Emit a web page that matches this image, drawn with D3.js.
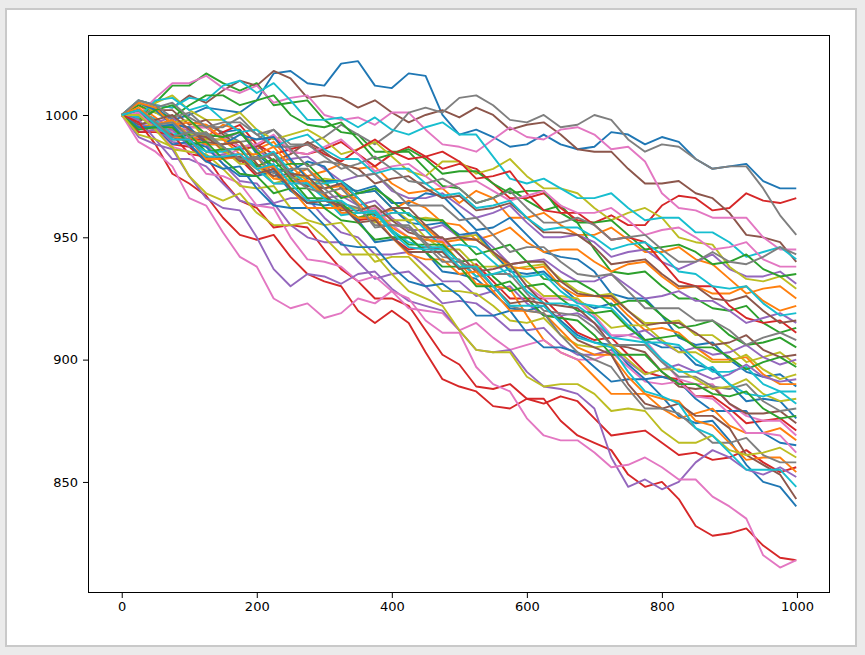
<!DOCTYPE html>
<html>
<head>
<meta charset="utf-8">
<script src="https://cdn.jsdelivr.net/npm/d3@7"></script>
<style>
  html, body { margin: 0; padding: 0; background: #ebebeb; }
  svg { display: block; }
</style>
</head>
<body>
<svg id="chart" width="865" height="655"></svg>
<script>
// sample positions along each walk (x values)
const steps = [0,25,50,75,100,125,150,175,200,225,250,275,300,325,350,375,400,425,450,475,500,
               525,550,575,600,625,650,675,700,725,750,775,800,825,850,875,900,925,950,975,999];

// values, grouped by colour (5 walks per colour)
const blueSeries = [
  [1000,1005,1003,998,1000,1003,1002,1001,1006,1017,1018,1013,1012,1021,1022,1012,1011,1017,1016,1000,992,994,991,987,988,992,988,986,987,993,992,988,991,989,982,978,979,980,973,970,970],
  [1000,995,996,997,990,990,993,994,984,978,977,981,979,970,969,971,964,964,968,967,960,953,954,958,951,944,942,941,936,927,925,925,918,909,906,907,900,895,893,894,889],
  [1000,1005,1002,996,995,988,988,992,990,991,982,974,973,973,968,969,962,956,955,956,951,952,944,936,935,936,930,924,921,923,916,908,905,905,898,896,890,883,884,883,876],
  [1000,1000,994,988,989,987,980,975,975,977,969,964,963,964,957,948,949,950,944,936,935,933,927,921,920,922,916,910,907,906,898,892,893,891,884,879,879,879,870,866,865],
  [1000,995,995,996,988,981,978,979,970,963,962,962,955,947,946,946,938,932,930,931,926,918,918,920,911,905,905,903,897,891,892,892,885,877,874,875,867,857,850,848,840]
];
const orangeSeries = [
  [1000,1004,999,994,994,991,996,994,986,989,981,975,977,980,978,979,972,968,969,970,964,969,966,958,958,960,955,951,951,954,949,944,944,946,941,939,933,927,929,930,925],
  [1000,993,994,995,990,992,985,981,983,974,975,978,972,967,966,960,961,965,962,956,955,949,951,954,948,944,945,945,940,936,939,940,934,929,930,927,927,930,924,920,922],
  [1000,1005,1003,996,997,996,990,984,984,987,979,973,970,971,964,957,960,960,954,948,949,949,944,938,937,938,930,926,926,925,918,912,913,911,905,900,900,901,894,890,890],
  [1000,995,996,998,991,988,988,989,980,974,973,973,967,960,960,961,954,950,949,948,940,931,930,929,918,908,903,900,893,886,886,886,880,876,878,880,873,870,870,872,867],
  [1000,1003,997,991,990,982,982,983,978,979,970,962,962,962,958,958,950,943,941,941,935,936,928,920,920,919,912,905,902,902,893,886,884,883,875,873,866,859,860,860,854]
];
const greenSeries = [
  [1000,999,1005,1012,1012,1017,1013,1010,1013,1004,1005,1006,998,993,992,985,985,985,978,971,970,964,966,970,965,961,963,956,945,936,935,936,930,925,925,921,920,922,915,911,913],
  [1000,1004,1001,999,1004,1008,1008,1004,1006,1008,1000,996,995,997,990,982,984,986,982,976,977,977,972,968,969,969,960,956,956,957,951,945,946,947,944,939,940,943,937,934,935],
  [1000,998,1002,1004,998,992,991,993,985,979,980,980,973,966,968,970,965,959,957,957,950,943,945,947,940,933,932,932,928,922,924,924,918,913,914,916,910,906,907,909,905],
  [1000,1002,996,991,992,985,986,986,979,982,974,966,966,964,958,960,953,947,947,947,940,941,934,928,930,931,925,920,919,920,913,908,909,910,905,905,901,896,899,901,897],
  [1000,994,995,995,988,989,982,976,975,968,970,970,962,957,956,949,950,950,944,938,938,930,930,932,925,918,917,916,910,902,902,902,895,890,890,886,885,887,880,876,877]
];
const redSeries = [
  [1000,1002,998,993,995,995,990,986,987,991,985,984,986,989,984,979,984,987,983,978,980,978,972,966,966,968,962,957,956,959,955,955,963,967,966,961,962,968,965,964,966],
  [1000,995,995,997,990,990,993,996,988,984,986,988,984,981,986,990,985,982,983,985,981,974,975,977,968,961,960,960,955,949,950,948,940,932,930,930,922,917,915,916,911],
  [1000,1001,994,988,987,981,983,982,975,978,970,964,965,963,957,958,950,945,946,945,937,939,932,925,925,925,918,911,908,909,902,895,893,892,885,885,880,874,875,876,871],
  [1000,993,993,992,984,983,973,965,962,954,955,954,945,937,932,925,925,922,912,902,898,889,888,890,884,882,885,883,876,869,870,871,866,861,862,859,860,863,858,854,856],
  [1000,997,988,976,972,967,958,951,949,951,942,935,932,930,920,915,920,915,903,892,889,887,881,880,884,884,875,869,866,863,853,848,850,843,832,828,829,831,824,819,818]
];
const purpleSeries = [
  [1000,996,997,999,993,990,990,993,986,981,982,983,978,973,975,976,969,966,966,968,963,958,960,963,956,950,950,951,948,942,944,945,940,937,940,943,937,934,934,936,931],
  [1000,1002,995,989,988,982,984,984,978,979,970,964,966,967,963,965,958,953,953,955,950,952,946,939,940,941,936,932,932,935,930,925,926,928,924,924,920,915,917,919,915],
  [1000,993,994,994,987,988,980,973,972,964,966,966,958,952,950,943,943,944,938,932,932,926,928,930,923,918,918,919,915,909,910,912,907,903,905,902,903,906,901,898,900],
  [1000,998,990,982,982,979,972,965,963,964,955,950,948,948,940,933,935,936,930,923,924,923,918,912,912,913,906,902,902,904,899,894,896,898,895,892,894,898,893,891,892],
  [1000,991,988,986,975,966,962,961,950,937,930,935,934,931,935,936,929,924,922,920,912,904,903,904,895,889,888,886,880,860,848,851,847,850,858,863,860,855,853,856,852]
];
const brownSeries = [
  [1000,1006,1004,1003,1008,1005,1010,1014,1012,1018,1015,1007,1008,1007,1003,1006,1001,997,1000,1002,999,1003,1000,994,996,997,992,986,985,985,978,972,972,973,968,966,960,951,950,948,940],
  [1000,997,1002,1002,996,998,992,987,988,981,984,989,985,980,978,972,974,975,970,966,967,961,962,964,958,952,952,951,946,939,940,941,935,930,930,925,924,926,920,915,916],
  [1000,1002,997,991,992,991,986,981,982,984,976,971,970,972,966,959,962,962,955,949,950,949,944,939,940,940,932,927,926,926,920,914,915,915,911,906,907,910,904,901,902],
  [1000,996,998,1000,994,989,988,989,980,975,976,975,968,961,961,963,957,952,950,950,943,936,937,939,930,923,922,921,915,906,905,903,895,889,888,889,882,878,878,879,874],
  [1000,1002,996,990,990,983,983,983,976,978,970,964,965,963,956,957,950,944,944,944,937,938,930,923,924,923,915,908,905,902,890,882,880,882,877,877,872,861,857,853,843]
];
const pinkSeries = [
  [1000,1000,1007,1013,1013,1016,1011,1009,1012,1005,1007,1008,1000,998,999,996,1001,1001,994,988,987,985,990,995,991,990,994,995,992,986,987,981,968,962,961,958,958,958,950,945,945],
  [1000,1002,998,993,995,995,991,987,988,992,985,984,987,990,984,977,979,980,975,970,972,973,969,965,967,969,963,960,960,962,957,951,953,954,950,945,946,948,941,938,938],
  [1000,995,995,997,990,985,983,986,978,972,972,973,967,960,960,962,955,950,949,949,943,936,937,939,930,925,925,924,918,910,910,908,900,892,890,890,882,877,875,875,869],
  [1000,1001,994,987,985,976,975,972,963,962,950,941,940,938,932,934,928,921,920,919,912,915,909,904,906,908,903,900,900,903,897,891,890,891,885,884,878,870,870,869,862],
  [1000,989,985,979,966,963,952,942,938,925,921,923,917,919,925,923,928,925,916,911,911,897,890,887,876,869,867,867,862,856,857,860,856,851,851,844,840,835,820,815,818]
];
const graySeries = [
  [1000,1002,998,993,995,996,993,989,990,994,988,988,991,996,992,988,993,1001,1003,1001,1007,1008,1004,998,997,1000,995,996,1000,998,990,985,988,987,982,978,979,979,970,959,951],
  [1000,999,1003,1005,999,995,995,999,992,987,987,988,983,978,980,983,978,973,972,974,970,964,966,969,962,956,956,958,955,949,950,951,945,940,940,944,940,939,942,946,943],
  [1000,1006,1004,999,1001,995,997,997,992,994,986,979,981,980,975,976,970,963,963,963,957,958,951,944,946,946,940,935,934,935,928,921,921,921,916,916,912,906,909,911,908],
  [1000,994,996,997,991,993,987,982,983,976,978,978,970,964,962,955,955,955,948,942,941,934,935,935,927,920,919,918,913,906,906,906,899,893,893,889,888,890,883,879,880],
  [1000,1002,997,991,993,992,987,982,982,984,975,970,968,970,963,954,955,954,947,940,940,937,930,922,920,919,910,903,900,897,888,880,880,878,872,866,866,868,861,858,858]
];
const oliveSeries = [
  [1000,1000,1005,1008,1002,998,998,1001,994,990,992,994,990,984,986,989,983,977,975,981,981,976,978,982,975,970,970,968,962,957,960,962,958,950,948,947,938,933,932,934,929],
  [1000,1005,1001,997,998,990,990,989,982,984,975,971,974,973,968,969,962,957,958,957,950,951,943,937,938,939,933,928,926,927,920,915,915,916,910,910,905,899,901,903,898],
  [1000,994,996,997,992,993,986,980,980,972,974,975,967,962,962,956,957,957,950,945,945,938,938,939,932,926,926,925,919,913,914,914,908,903,903,899,899,902,896,892,894],
  [1000,1000,994,986,985,984,978,971,970,971,962,957,955,956,948,940,942,942,935,928,928,927,922,916,915,917,910,906,905,906,900,894,896,896,892,888,889,892,886,883,884],
  [1000,992,990,987,975,968,965,968,960,955,955,956,950,943,943,943,935,928,925,922,912,904,903,903,893,889,890,890,886,879,880,879,871,866,866,869,863,861,862,864,860]
];
const cyanSeries = [
  [1000,1006,1004,1003,1007,1006,1012,1014,1009,1013,1006,998,998,999,995,999,994,992,995,997,992,992,983,974,972,974,970,966,966,968,962,957,958,958,952,952,948,942,944,946,941],
  [1000,999,1006,1007,1002,1004,998,993,994,987,990,992,986,982,982,976,978,978,972,967,968,962,963,965,958,953,954,954,950,945,947,948,943,936,935,930,929,930,923,918,919],
  [1000,1002,998,992,993,992,987,982,982,985,977,972,972,973,966,958,960,960,953,946,947,946,940,934,934,935,928,923,922,921,914,907,907,906,900,895,895,897,890,887,887],
  [1000,995,995,996,989,985,985,987,978,972,972,972,966,959,960,961,953,948,946,946,940,934,935,937,928,923,923,922,917,909,908,907,900,895,895,897,890,886,885,887,882],
  [1000,1002,996,990,990,983,983,984,978,980,972,965,965,965,960,960,952,946,945,945,938,938,930,922,922,922,915,909,907,905,895,887,885,882,872,869,862,855,855,855,848]
];

const xTicks = [0,200,400,600,800,1000];
const yTicks = [850,900,950,1000];
const palette = ["#1f77b4","#ff7f0e","#2ca02c","#d62728","#9467bd","#8c564b","#e377c2","#7f7f7f","#bcbd22","#17becf"];
const groups = [blueSeries, orangeSeries, greenSeries, redSeries, purpleSeries,
                brownSeries, pinkSeries, graySeries, oliveSeries, cyanSeries];

const svg = d3.select("#chart");

// window-like frame
svg.append("rect").attr("x", 6).attr("y", 9).attr("width", 850).attr("height", 637)
  .attr("fill", "#ffffff").attr("stroke", "#c9c9c9").attr("stroke-width", 2);

const L = 88, R = 830, T = 35, B = 593;
const x = d3.scaleLinear().domain([-49.95, 1048.95]).range([L, R]);
const y = d3.scaleLinear().domain([804.6, 1032.7]).range([B, T]);

svg.append("defs").append("clipPath").attr("id", "clip")
  .append("rect").attr("x", L).attr("y", T).attr("width", R - L).attr("height", B - T);

const line = d3.line()
  .defined((d, i) => i < steps.length)
  .x((d, i) => x(steps[i])).y(d => y(d));

// draw in matplotlib order: walk k gets colour k % 10
const plotG = svg.append("g").attr("clip-path", "url(#clip)");
for (let k = 0; k < 50; k++) {
  const c = k % 10, j = Math.floor(k / 10);
  plotG.append("path")
    .datum(groups[c][j])
    .attr("d", line)
    .attr("fill", "none")
    .attr("stroke", palette[c])
    .attr("stroke-width", 1.9)
    .attr("stroke-linejoin", "round");
}

// axes
const xAxis = svg.append("g").attr("transform", `translate(0,${B})`)
  .call(d3.axisBottom(x).tickValues(xTicks).tickSize(5).tickPadding(4).tickFormat(d3.format("d")));
const yAxis = svg.append("g").attr("transform", `translate(${L},0)`)
  .call(d3.axisLeft(y).tickValues(yTicks).tickSize(5).tickPadding(5).tickFormat(d3.format("d")));
[xAxis, yAxis].forEach(a => {
  a.select(".domain").remove();
  a.selectAll("text").attr("font-family", "DejaVu Sans, sans-serif").attr("font-size", 13).attr("fill", "#000");
  a.selectAll("line").attr("stroke", "#000").attr("stroke-width", 1);
});

svg.append("rect").attr("x", L + 0.5).attr("y", T + 0.5).attr("width", R - L - 1).attr("height", B - T - 1)
  .attr("fill", "none").attr("stroke", "#000").attr("stroke-width", 1);
</script>
</body>
</html>
